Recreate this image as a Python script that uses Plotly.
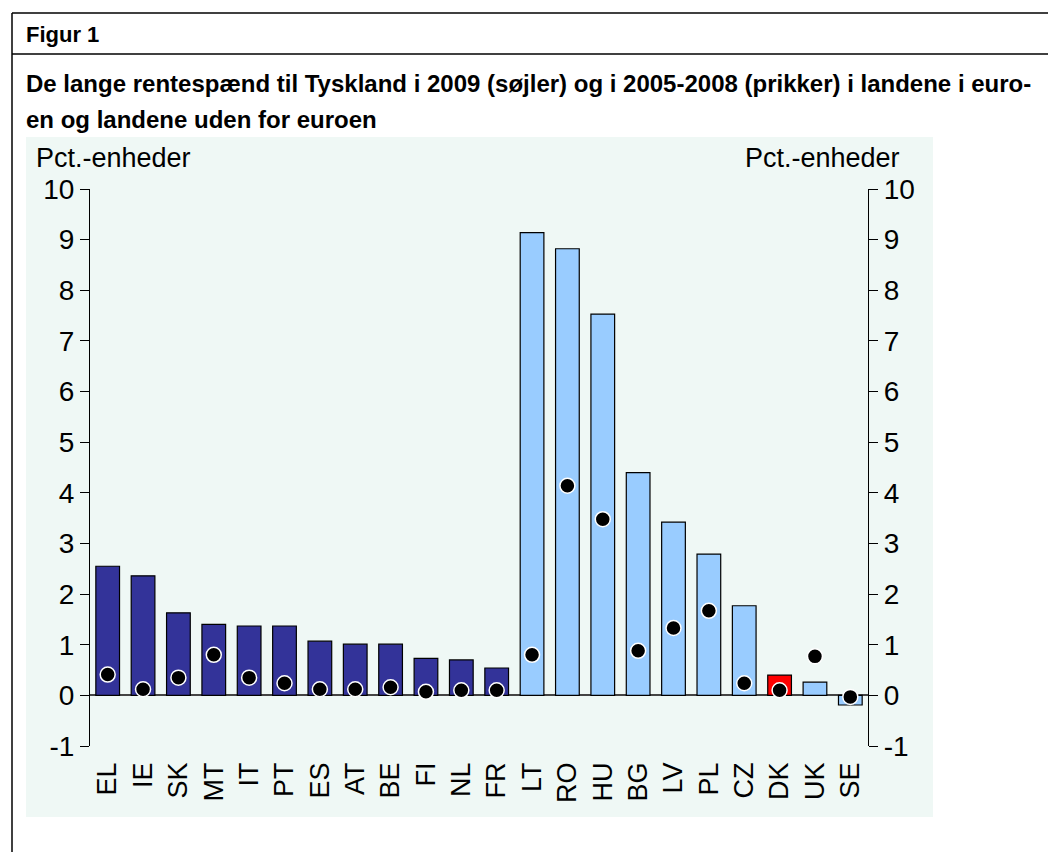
import plotly.graph_objects as go

countries = ["EL", "IE", "SK", "MT", "IT", "PT", "ES", "AT", "BE", "FI", "NL", "FR",
             "LT", "RO", "HU", "BG", "LV", "PL", "CZ", "DK", "UK", "SE"]
spread_2009 = [2.55, 2.36, 1.63, 1.40, 1.37, 1.37, 1.07, 1.01, 1.01, 0.73, 0.70, 0.54,
               9.14, 8.82, 7.53, 4.40, 3.42, 2.79, 1.77, 0.40, 0.26, -0.19]
spread_2005_2008 = [0.41, 0.12, 0.35, 0.80, 0.35, 0.24, 0.12, 0.12, 0.16, 0.07, 0.10, 0.10,
                    0.80, 4.14, 3.48, 0.88, 1.33, 1.67, 0.24, 0.10, 0.77, -0.03]
group = ["euro"] * 12 + ["non"] * 7 + ["dk"] + ["non"] * 2
group_colors = {"euro": "#333399", "non": "#99CCFF", "dk": "#FF0000"}
y_ticks = list(range(-1, 11))

W, H = 1048, 852
FONT = "Arial, Liberation Sans, sans-serif"
fig = go.Figure()
fig.add_trace(go.Bar(
    x=countries, y=spread_2009,
    marker=dict(color=[group_colors[g] for g in group], line=dict(color="#000000", width=1.2)),
    showlegend=False, hoverinfo="x+y",
))
fig.add_trace(go.Scatter(
    x=countries, y=spread_2005_2008, mode="markers",
    marker=dict(color="#000000", size=15, line=dict(color="#FFFFFF", width=1.5)),
    showlegend=False, cliponaxis=False,
))
fig.add_trace(go.Scatter(x=countries, y=spread_2005_2008, yaxis="y2", mode="markers",
                         marker=dict(opacity=0), showlegend=False, hoverinfo="skip"))

tickfont = dict(family=FONT, size=28, color="#000000")
ax_common = dict(range=[-1, 10], tickvals=y_ticks, ticktext=[str(v) for v in y_ticks],
                 showgrid=False, showline=True, linecolor="#000000", linewidth=1.2,
                 ticks="outside", ticklen=9, tickwidth=1.2, tickcolor="#000000",
                 tickfont=tickfont, fixedrange=True)

fig.update_layout(
    width=W, height=H,
    margin=dict(l=90, r=W - 868, t=189, b=H - 746, pad=0),
    paper_bgcolor="#FFFFFF", plot_bgcolor="rgba(0,0,0,0)",
    bargap=0.33,
    xaxis=dict(range=[-0.5, 21.5], showgrid=False, showline=False, ticks="", tickangle=-90,
               ticklabelstandoff=10,
               tickfont=dict(family=FONT, size=27, color="#000000"), fixedrange=True),
    yaxis=dict(side="left", zeroline=True, zerolinecolor="#444444", zerolinewidth=2, **ax_common),
    yaxis2=dict(side="right", overlaying="y", zeroline=False, **ax_common),
    font=dict(family=FONT, color="#000000"),
)

def px(x):
    return (x - 90) / 778

def py(y):
    return (746 - y) / 557

# panel background
fig.add_shape(type="rect", xref="paper", yref="paper",
              x0=px(26), x1=px(933), y0=py(817), y1=py(137),
              fillcolor="#EFF8F5", line=dict(width=0), layer="below")

# frame lines
for (x0, y0, x1, y1) in [(12, 13, 1048, 13), (12, 54, 1048, 54), (12, 13, 12, 852)]:
    fig.add_shape(type="line", xref="paper", yref="paper",
                  x0=px(x0), y0=py(y0), x1=px(x1), y1=py(y1),
                  line=dict(color="#000000", width=1.5))

def ann(text, x, y, size, bold=False, xanchor="left"):
    fig.add_annotation(text=f"<b>{text}</b>" if bold else text, xref="paper", yref="paper",
                       x=px(x), y=py(y), xanchor=xanchor, yanchor="middle", showarrow=False,
                       font=dict(family=FONT, size=size, color="#000000"))

ann("Figur 1", 24, 35, 22, bold=True)
ann("De lange rentespænd til Tyskland i 2009 (søjler) og i 2005-2008 (prikker) i landene i euro-", 24, 83, 24, bold=True)
ann("en og landene uden for euroen", 24, 120, 24, bold=True)
ann("Pct.-enheder", 34, 158, 27)
ann("Pct.-enheder", 902, 158, 27, xanchor="right")

fig.write_html("out.html", config={"displayModeBar": False},
               post_script="document.body.style.margin='0';document.body.style.overflow='hidden';")
